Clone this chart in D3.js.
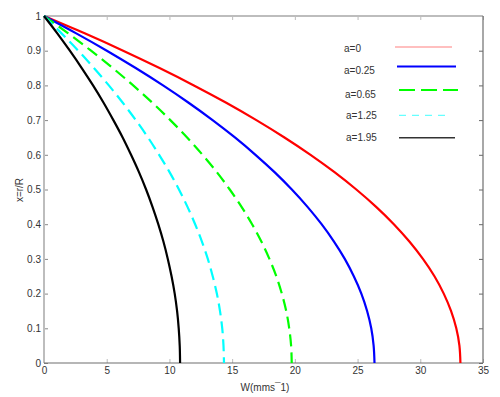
<!DOCTYPE html>
<html>
<head>
<meta charset="utf-8">
<script src="https://cdn.jsdelivr.net/npm/d3@7"></script>
<style>
  body { margin: 0; background: #fff; }
  svg { display: block; font-family: "Liberation Sans", Arial, sans-serif; }
  .tick text { fill: #333; font-size: 10px; }
</style>
</head>
<body>
<svg id="chart" width="500" height="397"></svg>
<script>
// x = r/R positions where the curves were read
const radius = [1, 0.95, 0.9, 0.85, 0.8, 0.75, 0.7, 0.65, 0.6, 0.55, 0.5,
                0.45, 0.4, 0.35, 0.3, 0.25, 0.2, 0.15, 0.1, 0.05, 0];

// W (mm/s) for each a
const wA0   = [0, 3.24, 6.31, 9.21, 11.95, 14.53, 16.93, 19.17, 21.25, 23.16, 24.9,
               26.48, 27.89, 29.13, 30.21, 31.13, 31.87, 32.45, 32.87, 33.12, 33.2];
const wA025 = [0, 2.57, 5.01, 7.31, 9.49, 11.53, 13.44, 15.22, 16.86, 18.38, 19.76,
               21.01, 22.13, 23.12, 23.98, 24.7, 25.3, 25.76, 26.09, 26.28, 26.35];
const wA065 = [0, 1.93, 3.75, 5.48, 7.11, 8.64, 10.07, 11.41, 12.64, 13.78, 14.81,
               15.75, 16.59, 17.33, 17.97, 18.52, 18.96, 19.31, 19.55, 19.7, 19.75];
const wA125 = [0, 1.4, 2.73, 3.98, 5.17, 6.28, 7.32, 8.29, 9.18, 10.01, 10.76,
               11.44, 12.05, 12.59, 13.06, 13.45, 13.78, 14.03, 14.21, 14.31, 14.35];
const wA195 = [0, 1.06, 2.06, 3.01, 3.91, 4.75, 5.53, 6.27, 6.94, 7.57, 8.14,
               8.65, 9.11, 9.52, 9.87, 10.17, 10.42, 10.61, 10.74, 10.82, 10.85];

const seriesNames = ['a=0', 'a=0.25', 'a=0.65', 'a=1.25', 'a=1.95'];
const xTicks = [0, 5, 10, 15, 20, 25, 30, 35];
const yTicks = [0, 0.1, 0.2, 0.3, 0.4, 0.5, 0.6, 0.7, 0.8, 0.9, 1];

const series = [
  { name: seriesNames[0], w: wA0,   color: '#ff0000', dash: null },
  { name: seriesNames[1], w: wA025, color: '#0000ff', dash: null },
  { name: seriesNames[2], w: wA065, color: '#00ff00', dash: '12,6' },
  { name: seriesNames[3], w: wA125, color: '#00ffff', dash: '12,6' },
  { name: seriesNames[4], w: wA195, color: '#000000', dash: null }
];

// legend look (the legend lines are drawn a bit differently than the curves)
const legendStyle = [
  { color: '#ff0000', width: 1.2, opacity: 0.5, dash: null, x1: 395, x2: 452, ly: 47, tx: 344, ty: 48 },
  { color: '#0000ff', width: 2.2, opacity: 1, dash: null, x1: 397, x2: 456, ly: 66.5, tx: 344, ty: 70 },
  { color: '#00ff00', width: 2.2, opacity: 1, dash: '16,6', x1: 399, x2: 458, ly: 90, tx: 345, ty: 94 },
  { color: '#00ffff', width: 1.2, opacity: 0.6, dash: '7,6', x1: 399, x2: 450, ly: 115.3, tx: 346, ty: 115 },
  { color: '#333333', width: 1.5, opacity: 1, dash: null, x1: 399, x2: 455, ly: 137.7, tx: 346, ty: 137 }
];

const margin = { top: 16, right: 17, bottom: 34, left: 44 };
const svg = d3.select('#chart');
const width = +svg.attr('width');
const height = +svg.attr('height');

let x = d3.scaleLinear()
  .domain([0, 35])
  .range([margin.left, width - margin.right]);

let y = d3.scaleLinear()
  .domain([0, 1])
  .range([height - margin.bottom, margin.top]);

let fmt = d => d3.format('~g')(d);

// axes, ticks pointing inward
svg.append('g')
  .attr('transform', `translate(0,${y(0)})`)
  .call(d3.axisBottom(x).tickValues(xTicks).tickFormat(fmt).tickSize(-4).tickSizeOuter(0).tickPadding(4))
  .call(g => g.select('.domain').remove())
  .call(g => g.selectAll('.tick line').attr('stroke', '#bbb'));

svg.append('g')
  .attr('transform', `translate(0,${y(1)})`)
  .call(d3.axisTop(x).tickValues(xTicks).tickFormat('').tickSize(-4).tickSizeOuter(0))
  .call(g => g.select('.domain').remove())
  .call(g => g.selectAll('.tick line').attr('stroke', '#bbb'));

svg.append('g')
  .attr('transform', `translate(${x(0)},0)`)
  .call(d3.axisLeft(y).tickValues(yTicks).tickFormat(fmt).tickSize(-4).tickSizeOuter(0).tickPadding(3))
  .call(g => g.select('.domain').remove())
  .call(g => g.selectAll('.tick line').attr('stroke', '#888'));

svg.append('g')
  .attr('transform', `translate(${x(35)},0)`)
  .call(d3.axisRight(y).tickValues(yTicks).tickFormat('').tickSize(-4).tickSizeOuter(0))
  .call(g => g.select('.domain').remove())
  .call(g => g.selectAll('.tick line').attr('stroke', '#666'));

// frame: light top/left, dark bottom/right
svg.append('line')
  .attr('x1', x(0)).attr('x2', x(35)).attr('y1', y(1)).attr('y2', y(1))
  .attr('stroke', '#bdbdbd').attr('stroke-width', 2);
svg.append('line')
  .attr('x1', x(0)).attr('x2', x(0)).attr('y1', y(1)).attr('y2', y(0))
  .attr('stroke', '#bdbdbd').attr('stroke-width', 2);
svg.append('line')
  .attr('x1', x(0)).attr('x2', x(35)).attr('y1', y(0)).attr('y2', y(0))
  .attr('stroke', '#6e6e6e').attr('stroke-width', 1.2);
svg.append('line')
  .attr('x1', x(35)).attr('x2', x(35)).attr('y1', y(1)).attr('y2', y(0))
  .attr('stroke', '#6e6e6e').attr('stroke-width', 1.2);

// curves
let line = d3.line()
  .x(d => x(d[0]))
  .y(d => y(d[1]))
  .curve(d3.curveMonotoneY);

let g = svg.append('g');

series.forEach(function(s) {
  let pts = s.w.map((w, i) => [w, radius[i]]);
  g.append('path')
    .datum(pts)
    .attr('fill', 'none')
    .attr('stroke', s.color)
    .attr('stroke-width', 2.2)
    .attr('stroke-dasharray', s.dash)
    .attr('d', line);
});

// legend
let legend = svg.append('g');
legendStyle.forEach(function(l, i) {
  legend.append('text')
    .attr('x', l.tx)
    .attr('y', l.ty)
    .attr('dy', '0.35em')
    .attr('font-size', 10)
    .attr('fill', '#333')
    .text(seriesNames[i]);
  legend.append('line')
    .attr('x1', l.x1).attr('x2', l.x2)
    .attr('y1', l.ly).attr('y2', l.ly)
    .attr('stroke', l.color)
    .attr('stroke-width', l.width)
    .attr('stroke-opacity', l.opacity)
    .attr('stroke-dasharray', l.dash);
});

// axis titles
svg.append('text')
  .attr('x', 265)
  .attr('y', 391)
  .attr('text-anchor', 'middle')
  .attr('font-size', 10)
  .attr('fill', '#333')
  .text('W(mms\u00AF1)');

svg.append('text')
  .attr('transform', 'translate(23,190) rotate(-90)')
  .attr('text-anchor', 'middle')
  .attr('font-size', 10)
  .attr('fill', '#333')
  .text('x=r/R');
</script>
</body>
</html>
